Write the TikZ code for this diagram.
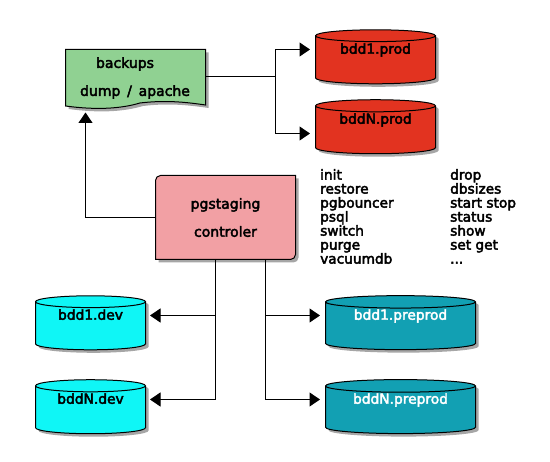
\documentclass[tikz,border=0pt]{standalone}
\usepackage{fontspec}
\usetikzlibrary{arrows.meta,shadows,shapes.geometric}
\newfontfamily\diafont[FakeBold=3]{DejaVu Sans}
\definecolor{backupgreen}{HTML}{90D192}
\definecolor{prodred}{HTML}{E23320}
\definecolor{devcyan}{HTML}{0FF6F6}
\definecolor{preprodteal}{HTML}{12A0B3}
\definecolor{controlerpink}{HTML}{F2A0A4}
\tikzset{
    softshadow/.style={drop shadow={shadow xshift=3pt, shadow yshift=-3pt, fill=black, opacity=0.35}},
    dbnode/.style={cylinder, shape border rotate=90, draw=black, line width=1pt, softshadow,
        minimum height=54pt, inner sep=0pt, align=center, font=\diafont\fontsize{13.8pt}{15pt}\selectfont},
    boxtext/.style={inner sep=0pt, font=\diafont\fontsize{14pt}{15pt}\selectfont},
    listtext/.style={boxtext, anchor=north west, align=left, font=\diafont\fontsize{13.7pt}{14pt}\selectfont},
    link/.style={draw=black, line width=1pt},
    linkarrow/.style={link, -{Triangle[length=10.5pt,width=14pt]}},
}
\begin{document}
\begin{tikzpicture}[x=1pt,y=-1pt]
\useasboundingbox (0,0) rectangle (550,462);

% Sauvegardes
\draw[fill=backupgreen, line width=1pt, softshadow] (65.5,49.5) -- (205.5,49.5) -- (205.5,105)
    .. controls (185,102) and (165,100) .. (140,103)
    .. controls (120,109) and (95,110) .. (65.5,106) -- cycle;
\node[boxtext] (backups) at (125,64) {backups};
\node[boxtext] (dump) at (135,92) {dump\, /\, apache};

% Controleur
\draw[fill=controlerpink, line width=1pt, softshadow] (155.5,259.5) [rounded corners=5pt] -- (155.5,175.5)
    [sharp corners] -- (295.5,175.5) [rounded corners=5pt] -- (295.5,259.5) [sharp corners] -- cycle;
\node[boxtext, align=center, minimum width=140pt, minimum height=84pt] (controler) at (225.5,217.5)
    {pgstaging\\[13pt]controler};

% Bases
\foreach \n/\y/\t in {prod1/60/bdd1.prod, prodN/130/bddN.prod}{
    \node[dbnode, fill=prodred, minimum width=120pt, aspect=0.167] (\n) at (375.5,\y) {\t\\[8pt]\mbox{}};
}
\foreach \n/\y/\t in {dev1/326/bdd1.dev, devN/410/bddN.dev}{
    \node[dbnode, fill=devcyan, minimum width=110pt, aspect=0.182] (\n) at (90.5,\y) {\t\\[8pt]\mbox{}};
}
\foreach \n/\y/\t in {preprod1/326/bdd1.preprod, preprodN/410/bddN.preprod}{
    \node[dbnode, fill=preprodteal, text=white, minimum width=150pt, aspect=0.133] (\n) at (400.5,\y) {\t\\[8pt]\mbox{}};
}

% Commandes
\node[listtext] (cmdleft) at (320,169) {init\\restore\\pgbouncer\\psql\\switch\\purge\\vacuumdb};
\node[listtext] (cmdright) at (450,169) {drop\\dbsizes\\start stop\\status\\show\\set get\\...};

% Liens
\coordinate (prodfork) at (275.5,77);
\coordinate (prod1in) at (310,49.5);
\coordinate (prodNin) at (310,133.5);
\coordinate (dev1in) at (150,315.5);
\coordinate (devNin) at (150,399.5);
\coordinate (preprod1in) at (320,315.5);
\coordinate (preprodNin) at (320,399.5);
\coordinate (backupsin) at (85.5,112.5);

\draw[link] (205.5,77) -- (prodfork);
\draw[linkarrow] (prodfork) |- (prod1in);
\draw[linkarrow] (prodfork) |- (prodNin);
\draw[linkarrow] (controler.west) -| (backupsin);
\draw[linkarrow] (215.5,259.5) |- (devNin);
\draw[linkarrow] (215.5,315.5) -- (dev1in);
\draw[linkarrow] (265.5,259.5) |- (preprodNin);
\draw[linkarrow] (265.5,315.5) -- (preprod1in);

\end{tikzpicture}
\end{document}
